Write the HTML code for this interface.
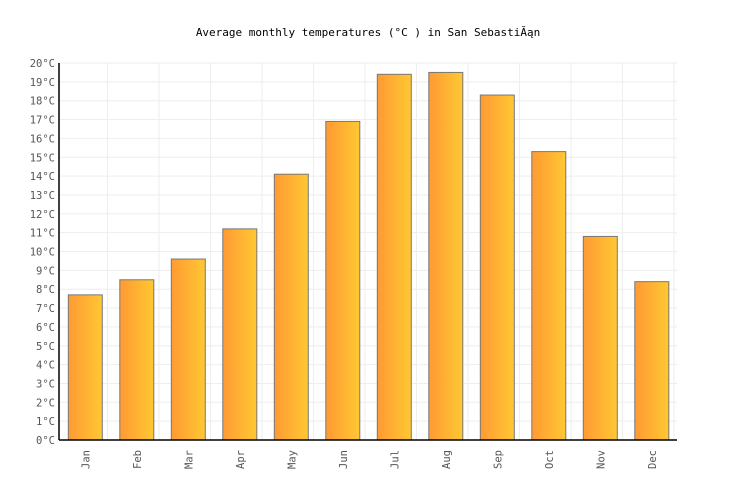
<!DOCTYPE html>
<html><head><meta charset="utf-8"><style>
body{margin:0;background:#fff;}
svg{display:block;font-family:"DejaVu Sans Mono","Liberation Mono",monospace;}
</style></head><body>
<svg id="chart" width="736" height="500" viewBox="0 0 736 500">
<defs><linearGradient id="g" x1="0" x2="1" y1="0" y2="0"><stop offset="0" stop-color="#ff9a33"/><stop offset="1" stop-color="#ffc833"/></linearGradient></defs>
<text x="368" y="36" text-anchor="middle" font-size="11" fill="#000">Average monthly temperatures (°C ) in San SebastiĂąn</text>
<g id="grid"></g><g id="bars"></g><g id="axes"></g>
</svg>
<script>
const months=["Jan","Feb","Mar","Apr","May","Jun","Jul","Aug","Sep","Oct","Nov","Dec"];
const temps=[7.7,8.5,9.6,11.2,14.1,16.9,19.4,19.5,18.3,15.3,10.8,8.4];
const yTicks=[0,1,2,3,4,5,6,7,8,9,10,11,12,13,14,15,16,17,18,19,20];
const NS="http://www.w3.org/2000/svg";
const L=59,R=677,T=63,B=440,yMax=20;
const band=(R-L)/months.length;
const y=v=>B-(v/yMax)*(B-T);
const x=i=>L+i*band;
function mk(tag,attrs,parent){const e=document.createElementNS(NS,tag);for(const k in attrs)e.setAttribute(k,attrs[k]);parent.appendChild(e);return e;}
const grid=document.getElementById('grid'),bars=document.getElementById('bars'),axes=document.getElementById('axes');
yTicks.forEach(t=>{
 const l=mk('line',{x1:L,x2:R,y1:y(t),y2:y(t),stroke:'#eeeeee','stroke-width':1},grid);
 
 
 const tx=mk('text',{x:L-4,y:y(t)+4,'text-anchor':'end','font-size':10.5,fill:'#555'},axes);
 tx.textContent=t+'°C';
 
 
});
months.forEach((m,i)=>{
 const g=mk('line',{x1:x(i+1)-3,x2:x(i+1)-3,y1:T,y2:B,stroke:'#eeeeee','stroke-width':1},grid);
 
 
 const r=mk('rect',{x:x(i)+9.3,y:y(temps[i]),width:34,height:B-y(temps[i]),fill:'url(#g)',stroke:'#777','stroke-width':1},bars);
 
 
 const cx=x(i)+26.3;
 const t=mk('text',{x:0,y:0,transform:`translate(${cx+4},${B+10}) rotate(-90)`,'text-anchor':'end','font-size':10.5,fill:'#555'},axes);
 t.textContent=m;
 
 
});
const ya=mk('line',{x1:L,x2:L,y1:T,y2:B,stroke:'#000','stroke-width':1.5},axes);


const xa=mk('line',{x1:L,x2:R,y1:B,y2:B,stroke:'#000','stroke-width':1.5},axes);


</script>
</body></html>
